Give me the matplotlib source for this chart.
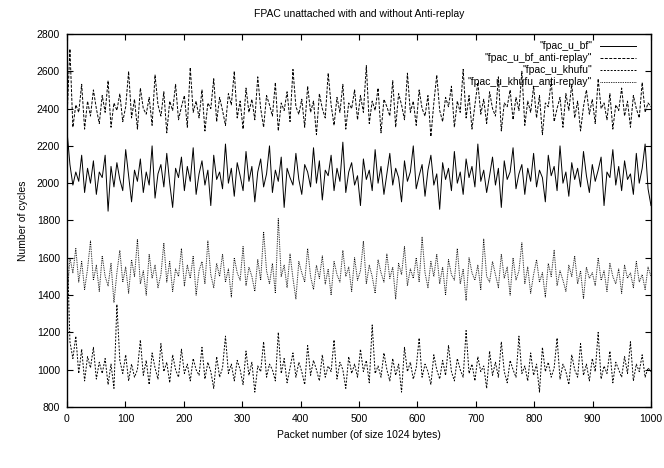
import numpy as np
import matplotlib
matplotlib.use('Agg')
import matplotlib.pyplot as plt

# Số liệu ước lượng từ hình (mỗi điểm cách nhau ~5 gói)
fpac_u_bf = [
    2280, 2100, 1990, 2060, 2010, 2150, 1950, 2080, 2000, 2120,
    1940, 2060, 2030, 2150, 1850, 2090, 1980, 2110, 2020, 1960,
    2180, 2040, 1900, 2070, 2010, 2130, 1950, 2060, 1990, 2200,
    1920, 2050, 2100, 1980, 2160, 2000, 1870, 2080, 2030, 2140,
    1960, 2090, 2010, 2190, 1940, 2050, 2120, 1990, 2070, 1880,
    2150, 2020, 2060, 1970, 2210, 2000, 2080, 1930, 2110, 2040,
    1960, 2170, 2010, 2090, 1900, 2060, 2130, 1980, 2050, 2200,
    1950, 2070, 2010, 2140, 1870, 2080, 2030, 1990, 2160, 2020,
    1940, 2100, 2060, 1980, 2190, 2000, 2120, 1910, 2070, 2040,
    2150, 1960, 2080, 2010, 2220, 1950, 2060, 2110, 1990, 2040,
    1880, 2130, 2020, 2070, 1960, 2180, 2000, 2090, 1940, 2050,
    2160, 1990, 2080, 2030, 1900, 2120, 2010, 2060, 2200, 1970,
    2040, 2100, 1930, 2070, 2150, 1990, 2050, 1860, 2110, 2020,
    2080, 1960, 2170, 2000, 2060, 1940, 2130, 2030, 2090, 1980,
    2210, 2010, 2070, 1950, 2040, 2140, 1990, 2080, 1870, 2120,
    2020, 2060, 2190, 1970, 2050, 2100, 1940, 2080, 2010, 2160,
    1980, 2070, 2030, 1900, 2150, 2040, 2090, 1960, 2200, 2000,
    2060, 1930, 2110, 2020, 2080, 1980, 2170, 2040, 1950, 2100,
    2010, 2070, 2140, 1880, 2060, 2030, 2180, 1990, 2090, 1960,
    2120, 2020, 2050, 1940, 2160, 2000, 2080, 2210, 1970, 1880,
]

fpac_u_bf_anti = [
    2350, 2720, 2300, 2420, 2380, 2530, 2290, 2440, 2360, 2500,
    2400, 2320, 2470, 2380, 2550, 2300, 2430, 2390, 2480, 2330,
    2410, 2600, 2350, 2450, 2290, 2510, 2400, 2370, 2460, 2310,
    2580, 2420, 2360, 2490, 2270, 2440, 2390, 2530, 2340, 2410,
    2470, 2300, 2620, 2380, 2440, 2350, 2500, 2280, 2430, 2400,
    2560, 2330, 2460, 2390, 2310, 2480, 2420, 2600, 2350, 2440,
    2290, 2510, 2380, 2450, 2340, 2570, 2400, 2300, 2470, 2420,
    2360, 2540, 2280, 2430, 2390, 2490, 2330, 2610, 2410, 2370,
    2450, 2300, 2520, 2380, 2440, 2260, 2480, 2400, 2350, 2590,
    2420, 2310, 2460, 2380, 2530, 2290, 2430, 2400, 2500, 2340,
    2470, 2380, 2630, 2320, 2440, 2390, 2510, 2270, 2450, 2410,
    2360, 2550, 2300, 2480, 2420, 2340, 2590, 2380, 2440, 2310,
    2500, 2400, 2360, 2470, 2250, 2430, 2580, 2390, 2330, 2460,
    2410, 2520, 2300, 2440, 2380, 2610, 2350, 2470, 2290, 2420,
    2540, 2370, 2450, 2320, 2490, 2400, 2360, 2570, 2280, 2430,
    2410, 2500, 2340, 2460, 2390, 2600, 2310, 2440, 2380, 2520,
    2350, 2470, 2260, 2430, 2410, 2550, 2330, 2400, 2460, 2300,
    2480, 2390, 2530, 2350, 2440, 2280, 2410, 2500, 2370, 2450,
    2320, 2560, 2400, 2430, 2340, 2480, 2290, 2420, 2390, 2510,
    2360, 2440, 2300, 2470, 2400, 2350, 2540, 2380, 2430, 2410,
]

fpac_u_khufu = [
    1700, 1150, 1060, 1180, 980, 1110, 940, 1070, 1010, 1120,
    950, 1040, 980, 1060, 920, 1030, 900, 1350, 1050, 980,
    1080, 940, 1030, 960, 1000, 1160, 970, 1050, 920, 1090,
    1010, 950, 1140, 990, 1040, 930, 1080, 1000, 960, 1110,
    980, 1030, 940, 1060, 1000, 970, 1120, 950, 1040, 990,
    900, 1070, 960, 1010, 1180, 980, 1030, 940, 1050, 1000,
    920, 1100, 970, 1040, 880, 1020, 990, 1150, 960, 1030,
    1000, 940, 1200, 980, 1060, 930, 1010, 1090, 960, 1040,
    990, 920, 1130, 970, 1050, 1000, 940, 1080, 960, 1020,
    990, 1160, 950, 1040, 1000, 900, 1070, 980, 1030, 960,
    1110, 990, 1050, 930, 1240, 980, 1020, 960, 1090, 1000,
    940, 1060, 970, 1030, 880, 1120, 990, 1040, 950, 1010,
    1170, 960, 1030, 990, 920, 1080, 1000, 950, 1050, 970,
    1130, 990, 940, 1060, 1000, 960, 1210, 980, 1030, 940,
    1070, 990, 1020, 900, 1100, 970, 1040, 960, 1150, 990,
    930, 1050, 1000, 960, 1180, 980, 1020, 940, 1090, 970,
    1030, 880, 1120, 990, 1040, 960, 1010, 1170, 950, 1030,
    990, 920, 1080, 1000, 960, 1140, 970, 1030, 940, 1060,
    990, 1200, 950, 1020, 980, 1100, 930, 1040, 1000, 960,
    1070, 980, 1150, 940, 1030, 990, 1080, 960, 1010, 990,
]

fpac_u_khufu_anti = [
    1380, 1600, 1520, 1650, 1470, 1580, 1430, 1540, 1690, 1480,
    1560, 1420, 1610, 1500, 1450, 1570, 1360, 1520, 1640, 1470,
    1550, 1410, 1590, 1500, 1700, 1460, 1530, 1400, 1620, 1490,
    1560, 1440, 1510, 1680, 1470, 1580, 1420, 1540, 1500, 1650,
    1450, 1560, 1490, 1610, 1400, 1530, 1580, 1460, 1690, 1510,
    1440, 1570, 1500, 1620, 1470, 1540, 1390, 1600, 1520, 1480,
    1660, 1450, 1550, 1500, 1420, 1590, 1480, 1740, 1530, 1460,
    1570, 1410, 1810, 1500, 1560, 1440, 1620, 1490, 1380, 1580,
    1520, 1470, 1650, 1500, 1430, 1560, 1490, 1610, 1460, 1540,
    1400, 1580, 1510, 1470, 1640, 1500, 1550, 1420, 1600, 1480,
    1530, 1690, 1460, 1560, 1500, 1410, 1590, 1520, 1470, 1620,
    1490, 1550, 1380, 1570, 1510, 1660, 1450, 1540, 1490, 1600,
    1470, 1710, 1520, 1440, 1580, 1500, 1620, 1460, 1550, 1400,
    1590, 1510, 1480, 1650, 1460, 1540, 1370, 1600, 1520, 1480,
    1560, 1430, 1700, 1500, 1470, 1580, 1510, 1440, 1620, 1490,
    1550, 1400, 1600, 1480, 1530, 1680, 1460, 1550, 1410, 1510,
    1590, 1470, 1520, 1390, 1570, 1500, 1640, 1450, 1530, 1480,
    1420, 1560, 1500, 1610, 1460, 1530, 1380, 1550, 1490, 1520,
    1450, 1600, 1480, 1530, 1420, 1570, 1500, 1460, 1540, 1410,
    1560, 1490, 1520, 1440, 1580, 1470, 1510, 1430, 1550, 1500,
]

labels = ['"fpac_u_bf"', '"fpac_u_bf_anti-replay"', '"fpac_u_khufu"',
          '"fpac_u_khufu_anti-replay"']

packets = np.linspace(0, 1000, len(fpac_u_bf))

plt.rcParams['font.family'] = ['Liberation Sans', 'DejaVu Sans']
plt.rcParams['font.size'] = 7

fig = plt.figure(figsize=(6.64, 4.68), dpi=100)
ax = fig.add_axes([0.1009, 0.1303, 0.8795, 0.7971])

# kiểu đường giống gnuplot
styles = [
    dict(linestyle='-'),
    dict(dashes=(3.0, 1.5)),
    dict(dashes=(2.0, 1.5)),
    dict(dashes=(0.8, 1.0)),
]
series = [fpac_u_bf, fpac_u_bf_anti, fpac_u_khufu, fpac_u_khufu_anti]

for vals, st in zip(series, styles):
    ax.plot(packets, vals, color='black', lw=0.7, **st)

ax.set_xlim(0, 1000)
ax.set_ylim(800, 2800)
ax.set_xticks(np.arange(0, 1001, 100))
ax.set_yticks(np.arange(800, 2801, 200))
ax.tick_params(direction='in', length=4, width=0.8, top=True, right=True,
               labelsize=7.5, pad=5)
for sp in ax.spines.values():
    sp.set_linewidth(1.0)

ax.set_title('FPAC unattached with and without Anti-replay', fontsize=7.5, pad=12)
ax.set_xlabel('Packet number (of size 1024 bytes)', fontsize=7.5, labelpad=4)
ax.set_ylabel('Number of cycles', fontsize=7.5, labelpad=6)

# chú thích kiểu gnuplot: chữ căn phải, mẫu đường bên phải
ys = [0.968, 0.936, 0.903, 0.871]
for lab, st, y in zip(labels, styles, ys):
    ax.text(0.899, y, lab, transform=ax.transAxes, ha='right', va='center',
            fontsize=7.5)
    ax.plot([0.913, 0.974], [y, y], transform=ax.transAxes, color='black',
            lw=0.7, **st)

fig.savefig('out.png', dpi=100)
